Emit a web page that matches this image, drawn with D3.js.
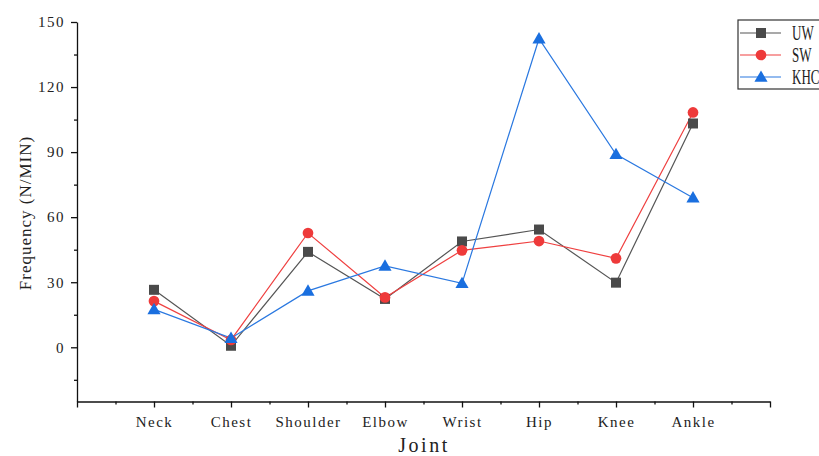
<!DOCTYPE html>
<html>
<head>
<meta charset="utf-8">
<script src="https://cdn.jsdelivr.net/npm/d3@7"></script>
<style>
  html, body { margin: 0; padding: 0; background: #fff; }
  svg { display: block; }
  text { font-family: "Liberation Serif", "DejaVu Serif", serif; fill: #222; }
</style>
</head>
<body>
<svg id="chart" width="819" height="456"></svg>
<script>
// Joint movement frequency per condition
const joints = ["Neck", "Chest", "Shoulder", "Elbow", "Wrist", "Hip", "Knee", "Ankle"];
const uw  = [26.5, 0.7, 44, 22.3, 48.8, 54.3, 29.8, 103.2];
const sw  = [21.3, 3.4, 52.7, 23, 44.7, 49, 41, 108.3];
const khc = [17.5, 4.2, 26, 37.5, 29.5, 142.3, 89, 69];
const seriesNames = ["UW", "SW", "KHC"];
const yTicks = [0, 30, 60, 90, 120, 150];

const series = [
  { name: seriesNames[0], values: uw,  color: "#555555", fill: "#4a4a4a", shape: d3.symbolSquare,   size: 100 },
  { name: seriesNames[1], values: sw,  color: "#ef4040", fill: "#ee3a3a", shape: d3.symbolCircle,   size: 90 },
  { name: seriesNames[2], values: khc, color: "#2a78e0", fill: "#1a6fdf", shape: d3.symbolTriangle, size: 75 }
];

const svg = d3.select("#chart");
const x = d3.scaleLinear().domain([0, joints.length + 1]).range([77, 770]);
const y = d3.scaleLinear().domain([-25, 150]).range([401.5, 22]);

// X axis: major ticks on each integer, minor ticks in between, labels on joints only
const xMajor = d3.range(0, joints.length + 2);
const xMinor = d3.range(0.5, joints.length + 1, 1);
const gx = svg.append("g").attr("transform", `translate(0,${y.range()[0]})`);
gx.call(d3.axisBottom(x).tickValues(xMajor).tickSize(6).tickSizeOuter(0)
  .tickFormat(d => (d >= 1 && d <= joints.length) ? joints[d - 1] : ""));
gx.append("g").call(d3.axisBottom(x).tickValues(xMinor).tickSize(3).tickFormat("").tickSizeOuter(0))
  .select(".domain").remove();
gx.selectAll("text").attr("font-size", 15).attr("dy", "1.1em")
  .attr("font-family", "Liberation Serif").attr("letter-spacing", 1.5);

// Y axis: major ticks every 30, minor ticks every 15
const yMinor = d3.range(-15, 150, 30);
const gy = svg.append("g").attr("transform", `translate(${x.range()[0]},0)`);
gy.call(d3.axisLeft(y).tickValues(yTicks).tickSize(6).tickSizeOuter(0).tickPadding(6));
gy.append("g").call(d3.axisLeft(y).tickValues(yMinor).tickSize(3).tickFormat("").tickSizeOuter(0))
  .select(".domain").remove();
gy.selectAll("text").attr("font-size", 15)
  .attr("font-family", "Liberation Serif").attr("letter-spacing", 1.5);

svg.selectAll(".domain, .tick line").attr("stroke", "#111").attr("stroke-width", 1.3);

// Axis titles
svg.append("text")
  .attr("x", 424).attr("y", 452)
  .attr("text-anchor", "middle").attr("font-size", 20).attr("letter-spacing", 2.5)
  .text("Joint");
svg.append("text")
  .attr("transform", "translate(31,213) rotate(-90)")
  .attr("text-anchor", "middle").attr("font-size", 17).attr("letter-spacing", 1)
  .text("Frequency (N/MIN)");

// Lines and markers
const line = d3.line().x((d, i) => x(i + 1)).y(d => y(d));
series.forEach(s => {
  svg.append("path")
    .datum(s.values)
    .attr("d", line)
    .attr("fill", "none")
    .attr("stroke", s.color)
    .attr("stroke-width", 1.2);
});
series.forEach(s => {
  const sym = d3.symbol().type(s.shape).size(s.size);
  svg.append("g").selectAll("path")
    .data(s.values)
    .join("path")
    .attr("d", sym)
    .attr("transform", (d, i) => `translate(${x(i + 1)},${y(d) + (s.shape === d3.symbolTriangle ? 1 : 0)})`)
    .attr("fill", s.fill);
});

// Legend (tall, condensed serif labels)
const lg = svg.append("g").attr("transform", "translate(738,20)");
lg.append("rect")
  .attr("x", 0).attr("y", 0).attr("width", 120).attr("height", 69)
  .attr("fill", "#fff").attr("stroke", "#333").attr("stroke-width", 1.2);
series.forEach((s, i) => {
  const cy = 13 + i * 22;
  lg.append("line").attr("x1", 2).attr("x2", 43).attr("y1", cy).attr("y2", cy)
    .attr("stroke", s.color).attr("stroke-width", 1.2);
  lg.append("path")
    .attr("d", d3.symbol().type(s.shape).size(s.size)())
    .attr("transform", `translate(23,${cy + (s.shape === d3.symbolTriangle ? 1 : 0)})`)
    .attr("fill", s.fill);
  lg.append("text")
    .attr("transform", `translate(54,${cy + 7}) scale(0.62,1)`)
    .attr("font-size", 21)
    .text(s.name);
});
</script>
</body>
</html>
